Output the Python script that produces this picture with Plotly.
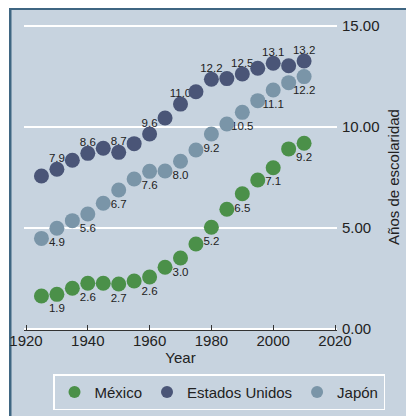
import plotly.graph_objects as go

years = [1925, 1930, 1935, 1940, 1945, 1950, 1955, 1960, 1965, 1970,
         1975, 1980, 1985, 1990, 1995, 2000, 2005, 2010]
mexico = [1.62, 1.70, 2.00, 2.25, 2.25, 2.21, 2.36, 2.56, 3.04, 3.50,
          4.19, 5.02, 5.91, 6.68, 7.36, 7.97, 8.90, 9.18]
usa = [7.56, 7.89, 8.34, 8.68, 8.93, 8.73, 9.16, 9.64, 10.43, 11.12,
       11.73, 12.35, 12.38, 12.61, 12.89, 13.14, 13.02, 13.25]
japan = [4.47, 4.97, 5.35, 5.68, 6.21, 6.87, 7.41, 7.79, 7.81, 8.29,
         8.85, 9.64, 10.13, 10.71, 11.29, 11.82, 12.18, 12.48]

label_years = [1930, 1940, 1950, 1960, 1970, 1980, 1990, 2000, 2010]
mexico_labels = ["1.9", "2.6", "2.7", "2.6", "3.0", "5.2", "6.5", "7.1", "9.2"]
usa_labels = ["7.9", "8.6", "8.7", "9.6", "11.0", "12.2", "12.5", "13.1", "13.2"]
japan_labels = ["4.9", "5.6", "6.7", "7.6", "8.0", "9.2", "10.5", "11.1", "12.2"]

y_ticks = [0, 5, 10, 15]
x_ticks = [1920, 1940, 1960, 1980, 2000, 2020]

FILL = "#C7D3DF"
BORDER = "#3F6682"
FONT = "Liberation Sans, Arial, sans-serif"

series = [
    ("México", mexico, mexico_labels, "#4B9049", "bottom center", 13),
    ("Estados Unidos", usa, usa_labels, "#4A5577", "top center", 5),
    ("Japón", japan, japan_labels, "#7A95A8", "bottom center", 13),
]

fig = go.Figure()

# label traces first so markers are drawn on top of them
for name, vals, labs, col, pos, gap in series:
    ly = [vals[years.index(y)] for y in label_years]
    fig.add_trace(go.Scatter(
        x=label_years, y=ly, mode="markers+text", text=labs,
        textposition=pos, marker=dict(size=gap, opacity=0, color=col),
        textfont=dict(size=11.5, color="#222222", family=FONT),
        showlegend=False, hoverinfo="skip", cliponaxis=False))

for name, vals, labs, col, pos, gap in series:
    fig.add_trace(go.Scatter(
        x=years, y=vals, mode="markers", name=name,
        marker=dict(size=15, color=col, line=dict(width=0)),
        cliponaxis=False))

# figure sits at page offset (8, 8)
W, H = 406, 408
L, R, T, B = 16, 77, 16, 86
pw, ph = W - L - R, H - T - B


def px(x):
    return (x - L) / pw


def py(y):
    return (H - B - y) / ph


shapes = [
    dict(type="rect", xref="paper", yref="paper", x0=px(1), x1=px(W + 10),
         y0=py(0), y1=py(H + 10), fillcolor=FILL, line=dict(width=0), layer="below"),
    dict(type="rect", xref="paper", yref="paper", x0=px(1), x1=px(W + 10),
         y0=py(0), y1=py(2), fillcolor=BORDER, line=dict(width=0), layer="below"),
    dict(type="rect", xref="paper", yref="paper", x0=px(1), x1=px(3.5),
         y0=py(0), y1=py(H + 10), fillcolor=BORDER, line=dict(width=0), layer="below"),
]

fig.update_layout(
    width=W, height=H,
    margin=dict(l=L, r=R, t=T, b=B, autoexpand=False),
    paper_bgcolor="white", plot_bgcolor=FILL,
    font=dict(family=FONT, size=15, color="#222222"),
    shapes=shapes,
    xaxis=dict(range=[1920 - 2 / 3.09, 2020 + 2 / 3.09], tickvals=x_ticks,
               showgrid=False, zeroline=False, showline=True, automargin=False,
               linecolor="#333333", linewidth=1, ticks="inside",
               ticklen=5, tickcolor="#333333", ticklabelstandoff=-3,
               tickfont=dict(size=15), title=dict(text="Year", standoff=0,
                                                  font=dict(size=15))),
    yaxis=dict(range=[-0.064, 15.084], tickvals=y_ticks, tickformat=".2f",
               side="right", showgrid=True, gridcolor="white", gridwidth=1.5,
               zeroline=False, showline=False, ticks="", automargin=False,
               ticklabelstandoff=4,
               tickfont=dict(size=15),
               title=dict(text="Años de escolaridad", standoff=9,
                          font=dict(size=15))),
    legend=dict(orientation="h", xref="paper", yref="paper",
                x=px(377), xanchor="right",
                y=py(366.3), yanchor="top", bgcolor=FILL,
                bordercolor="white", borderwidth=1.5,
                font=dict(size=15), itemsizing="constant"),
)

fig.write_html("out.html")
